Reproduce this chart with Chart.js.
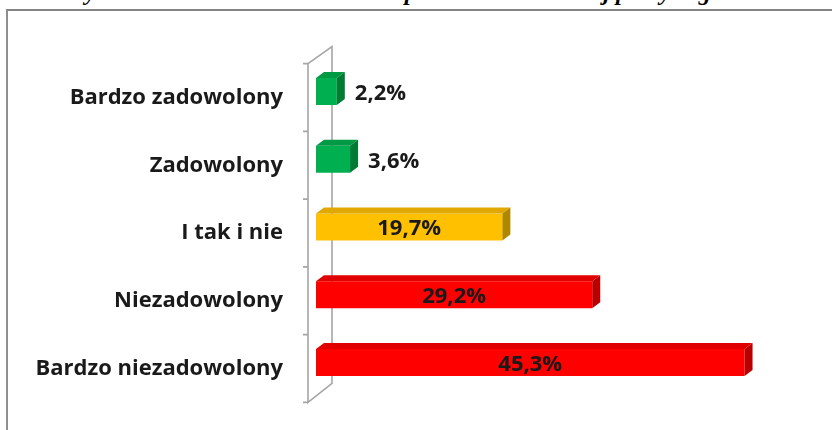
<!DOCTYPE html>
<html><head><meta charset="utf-8">
<script src="https://cdn.jsdelivr.net/npm/chart.js@4/dist/chart.umd.min.js"></script>
<style>
html,body{margin:0;padding:0;background:#fff;width:832px;height:430px;overflow:hidden;position:relative}
#title{position:absolute;left:0;top:-20px;width:832px;text-align:center;font:italic bold 24px/24px "Liberation Serif",serif;color:#000;white-space:nowrap}
#frame{position:absolute;left:6px;top:9px;right:0;bottom:-4px;border-top:2px solid #858585;border-left:2px solid #8f8f8f}
#wrap{position:absolute;left:0;top:0;width:832px;height:430px}
</style></head><body>
<div id="title">Wykres 6. Poziom zadowolenia respondentów z obecnej pracy w gminie</div>
<div id="frame"></div>
<div id="wrap"><canvas id="c"></canvas></div>
<script>
const categories = ['Bardzo zadowolony','Zadowolony','I tak i nie','Niezadowolony','Bardzo niezadowolony'];
const values = [2.2, 3.6, 19.7, 29.2, 45.3];
const valueLabels = ['2,2%','3,6%','19,7%','29,2%','45,3%'];

const frontColors = ['#00b050','#00b050','#ffc000','#ff0000','#ff0000'];
const topColors = ['#009944','#009944','#e0a800','#e00000','#e00000'];
const sideColors = ['#007a35','#007a35','#b08800','#b80000','#b80000'];

const wallPlugin = {
  id:'wall',
  beforeDatasetsDraw(chart){
    const {ctx, chartArea:{left,top,bottom}} = chart;
    const n = categories.length;
    const step = (bottom-top)/n;
    ctx.save();
    ctx.strokeStyle='#a6a6a6'; ctx.lineWidth=1.6;
    const fx = left-8, bx = left+16;
    ctx.beginPath();
    ctx.moveTo(fx, top+6); ctx.lineTo(fx, bottom+6);
    ctx.lineTo(bx, bottom-13); ctx.lineTo(bx, top-11);
    ctx.lineTo(fx, top+6);
    ctx.stroke();
    ctx.beginPath();
    for(let i=0;i<=n;i++){
      const yy = top+6+i*step;
      ctx.moveTo(left-13, yy); ctx.lineTo(fx, yy);
    }
    ctx.stroke();
    ctx.restore();
  }
};

const depthPlugin = {
  id:'depth',
  afterDatasetsDraw(chart){
    const ctx = chart.ctx;
    const meta = chart.getDatasetMeta(0);
    const dx=8, dy=-6;
    ctx.save();
    meta.data.forEach((bar,i)=>{
      const p = bar.getProps(['x','y','base','height'], true);
      const t = p.y-p.height/2, b = p.y+p.height/2;
      ctx.fillStyle = topColors[i];
      ctx.beginPath();
      ctx.moveTo(p.base,t); ctx.lineTo(p.x,t); ctx.lineTo(p.x+dx,t+dy); ctx.lineTo(p.base+dx,t+dy); ctx.closePath(); ctx.fill();
      ctx.fillStyle = sideColors[i];
      ctx.beginPath();
      ctx.moveTo(p.x,t); ctx.lineTo(p.x+dx,t+dy); ctx.lineTo(p.x+dx,b+dy); ctx.lineTo(p.x,b); ctx.closePath(); ctx.fill();
      ctx.font = 'bold 22px "Open Sans"';
      ctx.fillStyle = '#1a1a1a';
      ctx.textBaseline = 'middle';
      const w = ctx.measureText(valueLabels[i]).width;
      if (w + 10 > p.x - p.base) {
        ctx.textAlign='left';
        ctx.fillText(valueLabels[i], p.x+dx+10, p.y+2);
      } else {
        ctx.textAlign='center';
        ctx.fillText(valueLabels[i], (p.x+p.base)/2, p.y+2);
      }
    });
    ctx.restore();
  }
};

new Chart(document.getElementById('c'), {
  type:'bar',
  data:{ labels:categories, datasets:[{ data:values, backgroundColor:frontColors, borderWidth:0, categoryPercentage:1, barPercentage:0.4 }]},
  options:{
    indexAxis:'y', responsive:true, maintainAspectRatio:false, animation:false,
    layout:{padding:{top:57.6,bottom:33.6,right:43,left:0}},
    plugins:{legend:{display:false}, tooltip:{enabled:false}},
    scales:{
      x:{display:false,min:0,max:50},
      y:{grid:{display:false,drawTicks:false}, border:{display:false},
         ticks:{font:{family:'Open Sans',weight:'bold',size:22},color:'#1a1a1a',padding:33,labelOffset:6},
         afterFit(s){ s.width=316; s.paddingTop=0; s.paddingBottom=0; }}
    }
  },
  plugins:[wallPlugin, depthPlugin]
});
</script>
</body></html>
